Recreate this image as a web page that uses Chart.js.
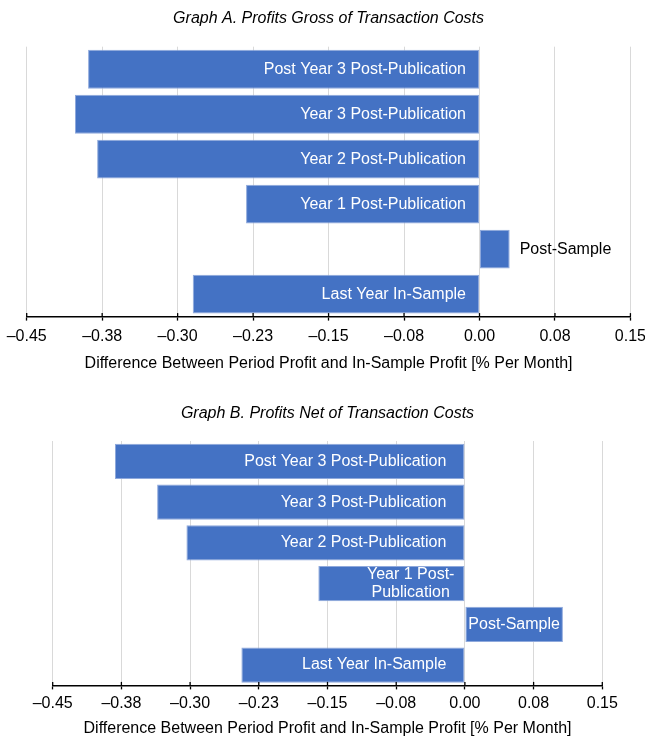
<!DOCTYPE html>
<html><head><meta charset="utf-8">
<script src="https://cdn.jsdelivr.net/npm/chart.js@4.4.0/dist/chart.umd.min.js"></script>
<style>
html,body{margin:0;padding:0;background:#fff;}
body{width:645px;height:736px;position:relative;overflow:hidden;}
#wa{position:absolute;left:0;top:0;width:652px;height:373px;}
#wb{position:absolute;left:0;top:389px;width:645px;height:349px;}
</style></head><body>
<div id="wa"><canvas id="ca"></canvas></div>
<div id="wb"><canvas id="cb"></canvas></div>
<script>
const categories = ['Post Year 3 Post-Publication','Year 3 Post-Publication','Year 2 Post-Publication','Year 1 Post-Publication','Post-Sample','Last Year In-Sample'];
const grossValues = [-0.389, -0.402, -0.380, -0.232, 0.030, -0.285];
const netValues = [-0.382, -0.336, -0.304, -0.160, 0.107, -0.244];
const tickValues = [-0.45, -0.375, -0.30, -0.225, -0.15, -0.075, 0, 0.075, 0.15];
const tickLabels = ['–0.45','–0.38','–0.30','–0.23','–0.15','–0.08','0.00','0.08','0.15'];
const titleA = 'Graph A. Profits Gross of Transaction Costs';
const titleB = 'Graph B. Profits Net of Transaction Costs';
const axisTitle = 'Difference Between Period Profit and In-Sample Profit [% Per Month]';

const FONT = "'Liberation Sans', Arial, Helvetica, sans-serif";
Chart.defaults.font.family = FONT;

function wrapText(ctx, text, maxW){
  const tokens = text.split(/(?<=[ \-])/);
  const lines = []; let cur = '';
  tokens.forEach(t=>{
    const test = cur + t;
    if (cur && ctx.measureText(test.trimEnd()).width > maxW){ lines.push(cur.trimEnd()); cur = t; }
    else cur = test;
  });
  if (cur) lines.push(cur.trimEnd());
  return lines;
}

const labelPlugin = {
  id:'barLabels',
  afterDatasetsDraw(chart, args, opts){
    const ctx = chart.ctx; const meta = chart.getDatasetMeta(0);
    ctx.save(); ctx.font = '16px ' + FONT; ctx.textBaseline = 'middle';
    meta.data.forEach((bar,i)=>{
      const p = bar.getProps(['x','y','base'], true);
      const x = p.x, y = p.y, base = p.base;
      const w = Math.abs(x - base);
      const neg = x < base;
      const text = chart.data.labels[i];
      const tw = ctx.measureText(text).width;
      ctx.fillStyle = '#fff';
      if (tw + 2*opts.pad <= w){
        ctx.textAlign='right';
        ctx.fillText(text, (neg ? base : x) - opts.pad, y);
        return;
      }
      if (tw + 4 <= w){
        ctx.textAlign='center'; ctx.fillText(text, (x+base)/2, y); return;
      }
      const lines = wrapText(ctx, text, w - 8);
      const maxLW = Math.max(...lines.map(l=>ctx.measureText(l).width));
      if (lines.length > 1 && maxLW + 8 <= w){
        const lh = 17.3;
        const cx = neg ? base - 10 - maxLW/2 : base + 10 + maxLW/2;
        ctx.textAlign='center';
        lines.forEach((l,k)=>ctx.fillText(l, cx, y + (k - (lines.length-1)/2)*lh));
        return;
      }
      ctx.fillStyle = '#000';
      if (neg){ ctx.textAlign='right'; ctx.fillText(text, x - 10, y); }
      else { ctx.textAlign='left'; ctx.fillText(text, x + 10, y); }
    });
    ctx.restore();
  }
};

const tickPlugin = {
  id:'tickUp',
  afterDraw(chart){
    const s = chart.scales.x; const ctx = chart.ctx;
    ctx.save(); ctx.strokeStyle='#000'; ctx.lineWidth=1.3;
    s.ticks.forEach(t=>{
      const px = s.getPixelForValue(t.value);
      ctx.beginPath(); ctx.moveTo(px, s.top - 3.5); ctx.lineTo(px, s.top); ctx.stroke();
    });
    ctx.restore();
  }
};

function makeChart(id, title, values, o){
  return new Chart(document.getElementById(id), {
    type:'bar',
    data:{labels:categories, datasets:[{data:values, backgroundColor:'#4472C4', borderColor:'#8FA9DC', borderWidth:1, borderSkipped:false, barPercentage:0.865, categoryPercentage:1}]},
    options:{
      indexAxis:'y', responsive:true, maintainAspectRatio:false, animation:false,
      layout:{padding:{left:o.padL, right:o.padR, top:0, bottom:0}},
      plugins:{
        legend:{display:false}, tooltip:{enabled:false},
        title:{display:true, fullSize:false, text:title, color:'#000', font:{family:FONT, size:16, style:'italic', weight:'normal'}, padding:{top:o.tTop, bottom:o.tBot}},
        barLabels:{pad:o.labelPad}
      },
      scales:{
        x:{type:'linear', min:-0.45, max:0.15,
          afterBuildTicks:(s)=>{ s.ticks = tickValues.map(v=>({value:v})); },
          ticks:{callback:(v,i)=>tickLabels[i], color:'#000', font:{family:FONT, size:16}, padding:o.tickPad, maxRotation:0, autoSkip:false},
          grid:{color:'#D9D9D9', lineWidth:1, tickLength:4, tickColor:'#000', tickWidth:1.3, drawTicks:true},
          border:{color:'#000', width:1.5},
          title:{display:true, text:axisTitle, color:'#000', font:{family:FONT, size:16}, padding:{top:o.axTop, bottom:0}}
        },
        y:{display:false}
      }
    },
    plugins:[labelPlugin, tickPlugin]
  });
}

makeChart('ca', titleA, grossValues, {padL:26.7, padR:0, tTop:9.4, tBot:18.1, tickPad:6, axTop:2, labelPad:13});
makeChart('cb', titleB, netValues, {padL:52.7, padR:42.7, tTop:14.8, tBot:18, tickPad:4.4, axTop:1.4, labelPad:18});
</script>
</body></html>
